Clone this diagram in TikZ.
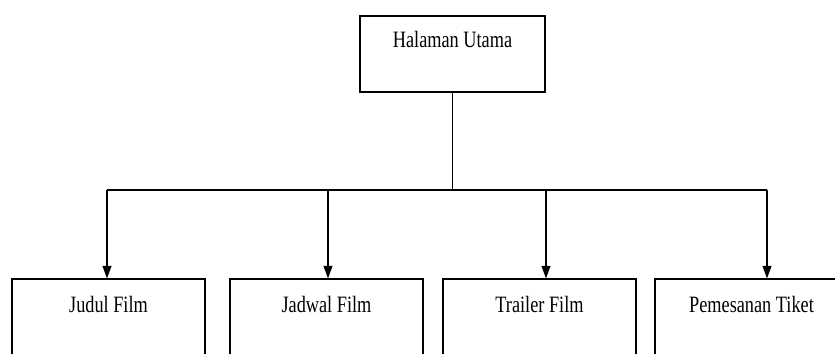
\documentclass[tikz,border=0pt]{standalone}
\usepackage{fontspec}
\setmainfont{Liberation Serif}[FakeStretch=0.78]
\usetikzlibrary{arrows.meta,positioning}

\begin{document}
\begin{tikzpicture}[
  x=0.03cm, y=-0.03cm,
  every node/.style={font=\fontsize{20}{22}\selectfont},
  menubox/.style={draw=black, line width=1pt, inner sep=0pt, anchor=base},
  topbox/.style={menubox, minimum width=5.55cm, text height=0.93cm, text depth=1.35cm},
  subbox/.style={menubox, minimum width=5.79cm, text height=0.99cm, text depth=1.80cm},
  link/.style={draw=black, line width=1pt},
  arrow/.style={link, -{Triangle[length=3.8mm, width=2.7mm]}},
]

%% ── Frame: 835 x 353 px, 1 px = 0.03 cm ─────────────────────────────────────
\useasboundingbox (0,0) rectangle (835,353);
\clip (0,0) rectangle (835,353);

\def\busy{190}   % y of the horizontal bus

%% ── Top level ───────────────────────────────────────────────────────────────
\node[topbox] (utama) at (452.5,47) {Halaman Utama};

%% ── Second level (boxes run past the lower edge) ──────────────────────────
\node[subbox] (judul)   at (108.5,312) {Judul Film};
\node[subbox] (jadwal)  at (326.5,312) {Jadwal Film};
\node[subbox] (trailer) at (539.5,312) {Trailer Film};
\node[subbox] (tiket)   at (751.5,312) {Pemesanan Tiket};

%% ── Connectors ──────────────────────────────────────────────────────────────
\coordinate (busL) at (107,\busy);
\coordinate (busR) at (767,\busy);
\draw[link] (utama.south) -- (utama.south |- busL);
\draw[link] (busL) -- (busR);

\foreach \x/\sub in {107/judul, 328/jadwal, 546/trailer, 767/tiket}{
  \coordinate (drop-\sub) at (\x,\busy);
  \draw[arrow] (drop-\sub) -- (drop-\sub |- \sub.north);
}

\end{tikzpicture}
\end{document}
